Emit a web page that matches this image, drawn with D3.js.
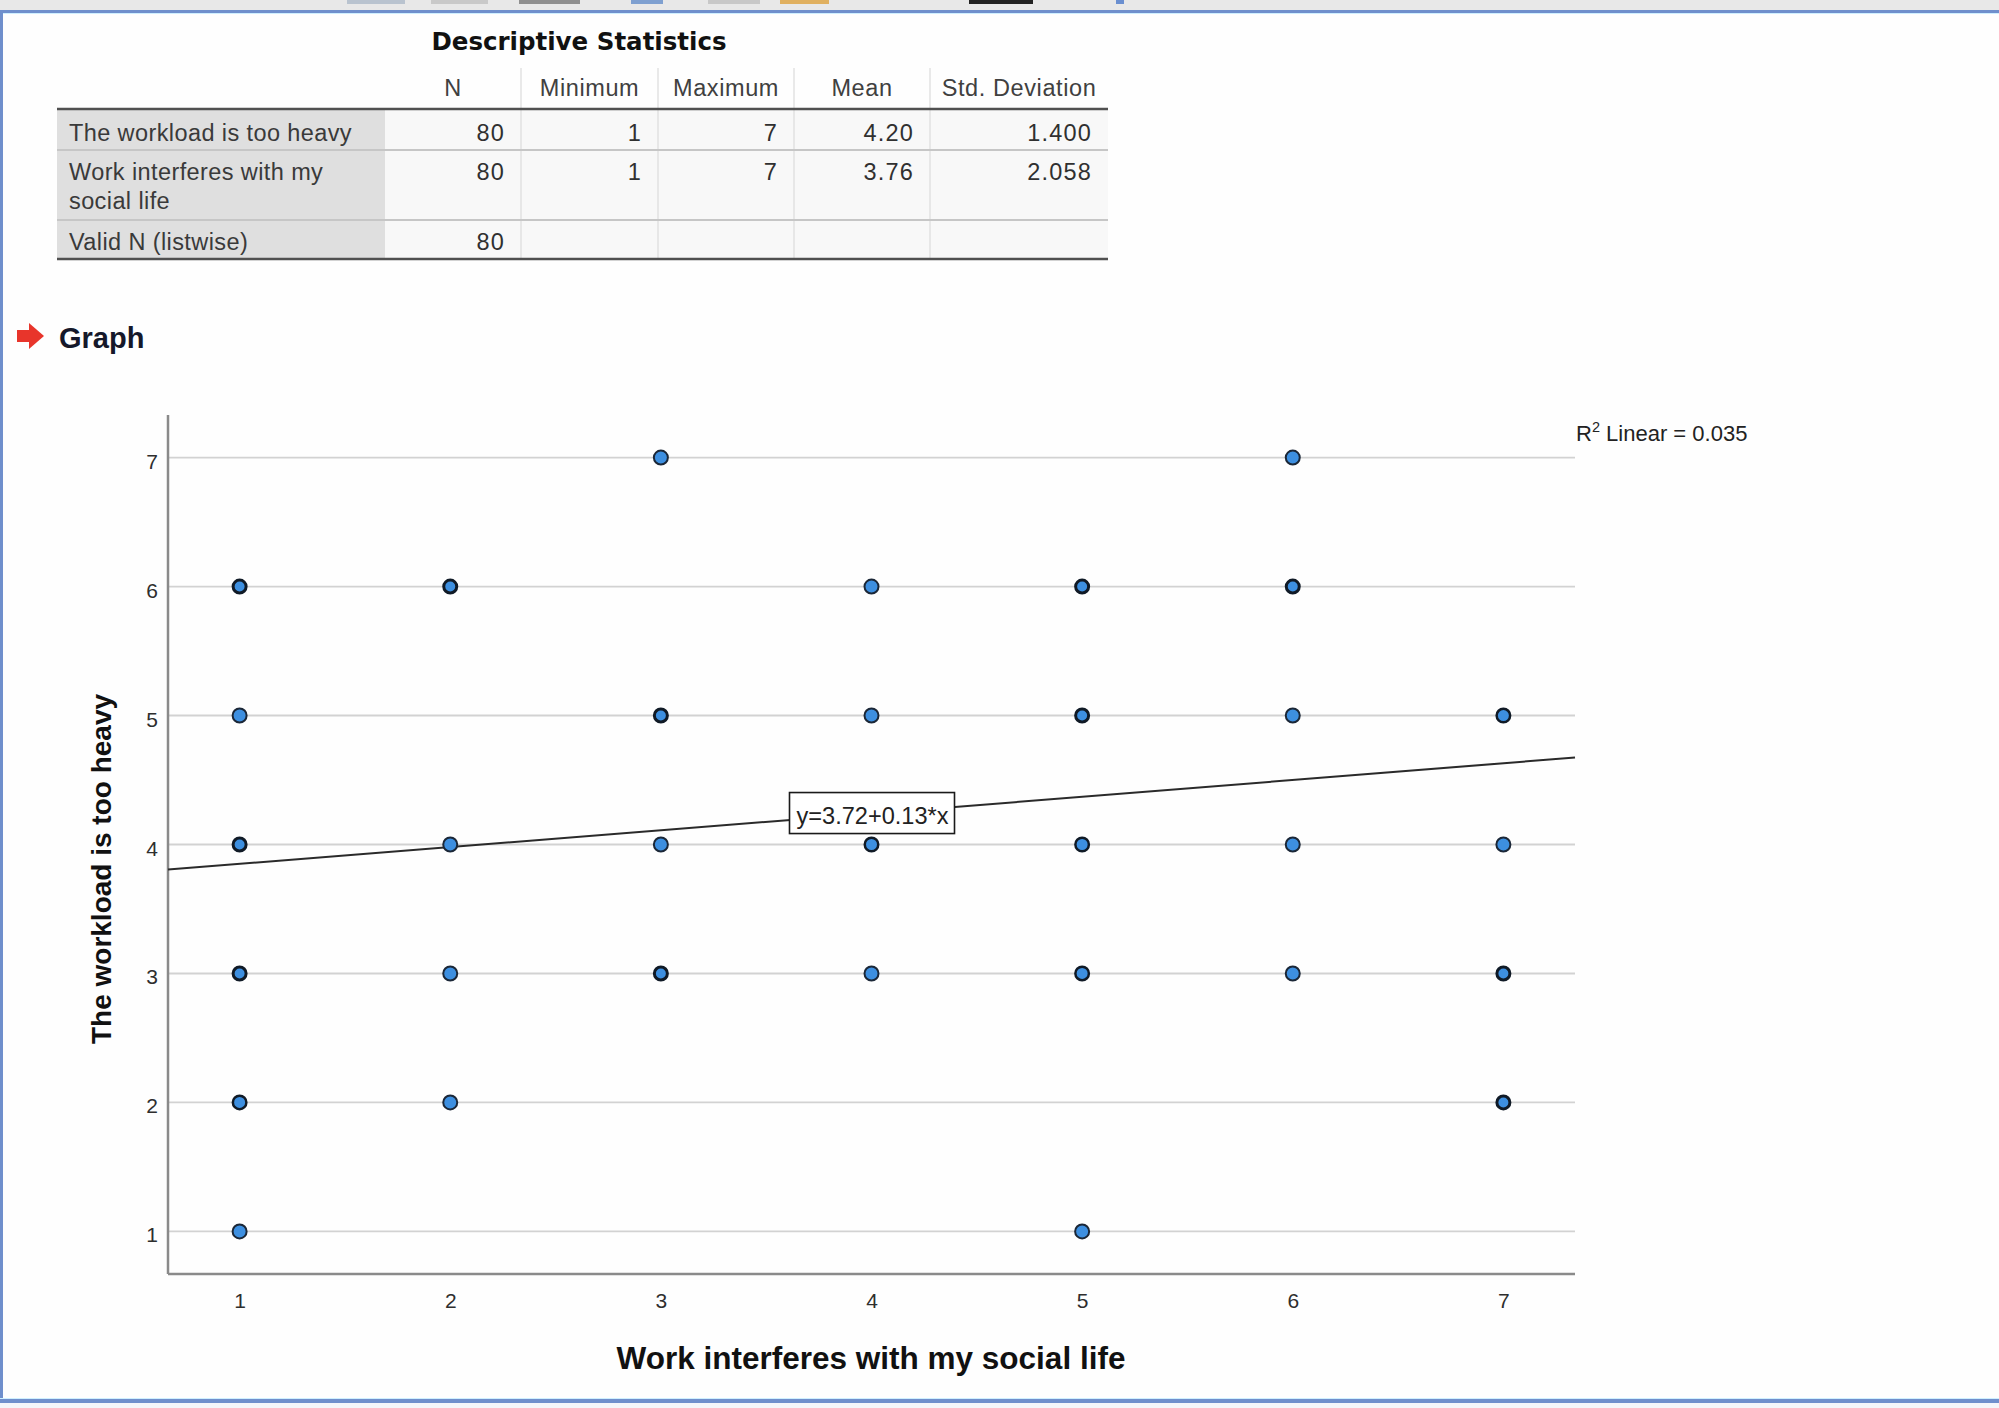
<!DOCTYPE html>
<html><head><meta charset="utf-8">
<script src="https://cdn.jsdelivr.net/npm/d3@7"></script>
<style>html,body{margin:0;padding:0;background:#fff;} svg{display:block}</style>
</head><body>
<svg id="c" width="1999" height="1408"></svg>
<script>
// ---------- data ----------
const tableTitle = "Descriptive Statistics";
const statColumns = ["N", "Minimum", "Maximum", "Mean", "Std. Deviation"];
const statRowLabels = [["The workload is too heavy"], ["Work interferes with my", "social life"], ["Valid N (listwise)"]];
const statN = ["80", "80", "80"];
const statMin = ["1", "1", ""];
const statMax = ["7", "7", ""];
const statMean = ["4.20", "3.76", ""];
const statSD = ["1.400", "2.058", ""];

const xTicks = [1, 2, 3, 4, 5, 6, 7];
const yTicks = [1, 2, 3, 4, 5, 6, 7];
const xTitle = "Work interferes with my social life";
const yTitle = "The workload is too heavy";
// one entry per distinct (x, y) location; caseCounts = estimated overlapping cases
const workInterferes = [3, 6, 1, 2, 4, 5, 6, 1, 3, 4, 5, 6, 7, 1, 2, 3, 4, 5, 6, 7, 1, 2, 3, 4, 5, 6, 7, 1, 2, 7, 1, 5];
const workloadHeavy  = [7, 7, 6, 6, 6, 6, 6, 5, 5, 5, 5, 5, 5, 4, 4, 4, 4, 4, 4, 4, 3, 3, 3, 3, 3, 3, 3, 2, 2, 2, 1, 1];
const caseCounts     = [1, 1, 3, 3, 1, 3, 3, 1, 3, 1, 3, 1, 2, 3, 1, 1, 2, 2, 1, 1, 3, 1, 3, 1, 2, 1, 3, 2, 1, 3, 1, 1];
const fitIntercept = 3.72;
const fitSlope = 0.13;
const rSquared = 0.035;

// ---------- page frame ----------
const svg = d3.select("#c");
svg.append("rect").attr("width", 1999).attr("height", 1408).attr("fill", "#fefefe");
svg.append("rect").attr("x", 0).attr("y", 0).attr("width", 1999).attr("height", 10).attr("fill", "#e8e8e8");
const toolbarBits = [[347, 58, "#b9c3cf"], [431, 57, "#c9c9c9"], [519, 61, "#8f8f8f"], [631, 32, "#7fa0d0"], [708, 52, "#c8c8c8"], [780, 49, "#e0b060"], [969, 64, "#222"], [1116, 8, "#6a8fd0"]];
svg.selectAll("rect.tb").data(toolbarBits).join("rect").attr("class", "tb")
  .attr("x", d => d[0]).attr("y", 0).attr("width", d => d[1]).attr("height", 4).attr("fill", d => d[2]);
svg.append("rect").attr("x", 0).attr("y", 10).attr("width", 1999).attr("height", 3).attr("fill", "#6f8fcc");
svg.append("rect").attr("x", 0).attr("y", 13).attr("width", 1999).attr("height", 1).attr("fill", "#cfefff");
svg.append("rect").attr("x", 0).attr("y", 10).attr("width", 3).attr("height", 1398).attr("fill", "#6f8fcc");
svg.append("rect").attr("x", 0).attr("y", 1398).attr("width", 1999).attr("height", 1).attr("fill", "#cfefff");
svg.append("rect").attr("x", 0).attr("y", 1399).attr("width", 1999).attr("height", 4).attr("fill", "#6f8fcc");
svg.append("rect").attr("x", 0).attr("y", 1403).attr("width", 1999).attr("height", 5).attr("fill", "#f4f6fa");

// ---------- table ----------
const colEdges = [57, 385, 521, 658, 794, 930, 1108];
const rowEdges = [109, 150, 220, 259];
const tbl = svg.append("g").attr("font-family", "Liberation Sans, Arial, sans-serif");
tbl.append("text").attr("x", 579).attr("y", 50).attr("text-anchor", "middle")
  .attr("font-family", "DejaVu Sans, sans-serif").attr("font-weight", "bold").attr("font-size", 24.5)
  .attr("fill", "#111").text(tableTitle);
for (let r = 0; r < 3; r++) {
  tbl.append("rect").attr("x", colEdges[0]).attr("y", rowEdges[r]).attr("width", colEdges[1] - colEdges[0])
    .attr("height", rowEdges[r + 1] - rowEdges[r]).attr("fill", "#dfdfdf");
  tbl.append("rect").attr("x", colEdges[1]).attr("y", rowEdges[r]).attr("width", colEdges[6] - colEdges[1])
    .attr("height", rowEdges[r + 1] - rowEdges[r]).attr("fill", "#f8f8f8");
}
for (let c = 2; c < 6; c++) {
  tbl.append("line").attr("x1", colEdges[c]).attr("x2", colEdges[c]).attr("y1", 68).attr("y2", rowEdges[3])
    .attr("stroke", "#e2e2e2").attr("stroke-width", 1.5);
}
[150, 220].forEach(yy => tbl.append("line").attr("x1", colEdges[0]).attr("x2", colEdges[6]).attr("y1", yy).attr("y2", yy)
  .attr("stroke", "#c6c6c6").attr("stroke-width", 2));
[109, 259].forEach(yy => tbl.append("line").attr("x1", colEdges[0]).attr("x2", colEdges[6]).attr("y1", yy).attr("y2", yy)
  .attr("stroke", "#505050").attr("stroke-width", 2.5));
statColumns.forEach((h, i) => {
  tbl.append("text").attr("x", (colEdges[i + 1] + colEdges[i + 2]) / 2).attr("y", 96).attr("text-anchor", "middle")
    .attr("font-size", 23.5).attr("letter-spacing", 0.6).attr("fill", "#404040").text(h);
});
const rowBase = [141, 180, 250];
statRowLabels.forEach((lines, r) => {
  lines.forEach((ln, k) => {
    tbl.append("text").attr("x", 69).attr("y", rowBase[r] + k * 29).attr("font-size", 23.5)
      .attr("letter-spacing", 0.4).attr("fill", "#3a3a3a").text(ln);
  });
});
const statCols = [statN, statMin, statMax, statMean, statSD];
statCols.forEach((col, c) => {
  col.forEach((v, r) => {
    if (!v) return;
    tbl.append("text").attr("x", colEdges[c + 2] - 16).attr("y", rowBase[r]).attr("text-anchor", "end")
      .attr("font-size", 23.5).attr("letter-spacing", 1.2).attr("fill", "#303030").text(v);
  });
});

// ---------- Graph heading ----------
const arrow = svg.append("g");
arrow.append("rect").attr("x", 17).attr("y", 330).attr("width", 14).attr("height", 12).attr("fill", "#e8352b");
arrow.append("path").attr("d", "M29,323 L44,336 L29,349 Z").attr("fill", "#e8352b");
svg.append("text").attr("x", 59).attr("y", 348).attr("font-family", "Liberation Sans, Arial, sans-serif")
  .attr("font-weight", "bold").attr("font-size", 29).attr("fill", "#15182a").text("Graph");

// ---------- scatter ----------
const plotL = 168, plotR = 1575, plotT = 415, plotB = 1274;
const x = d3.scaleLinear().domain([0.66, 7.34]).range([plotL, plotR]);
const y = d3.scaleLinear().domain([0.67, 7.33]).range([plotB, plotT]);
const chart = svg.append("g").attr("font-family", "Liberation Sans, Arial, sans-serif");

chart.append("g").selectAll("line").data(yTicks).join("line")
  .attr("x1", plotL).attr("x2", plotR).attr("y1", d => y(d)).attr("y2", d => y(d))
  .attr("stroke", "#d2d2d2").attr("stroke-width", 1.8);

const xAxis = chart.append("g").attr("transform", `translate(0,${plotB})`)
  .call(d3.axisBottom(x).tickValues(xTicks).tickSize(0).tickSizeOuter(0).tickPadding(19).tickFormat(d3.format("d")));
const yAxis = chart.append("g").attr("transform", `translate(${plotL},0)`)
  .call(d3.axisLeft(y).tickValues(yTicks).tickSize(0).tickSizeOuter(0).tickPadding(10).tickFormat(d3.format("d")));
[xAxis, yAxis].forEach(a => {
  a.select(".domain").attr("stroke", "#8a8a8a").attr("stroke-width", 2.5);
  a.selectAll("text").attr("font-size", 21).attr("fill", "#2e2e2e").attr("font-family", "Liberation Sans, Arial, sans-serif");
});
yAxis.selectAll("text").attr("dy", "0.5em");
yAxis.select(".domain").attr("d", `M0,${plotT}V${plotB}`);
xAxis.select(".domain").attr("d", `M${plotL},0H${plotR}`);

const fitX = x.domain();
chart.append("path").datum(fitX)
  .attr("d", d3.line().x(d => x(d)).y(d => y(fitIntercept + fitSlope * d)))
  .attr("fill", "none").attr("stroke", "#2a2a2a").attr("stroke-width", 2);

// points: overlapping cases darken the rim
const rim = d3.scaleLinear().domain([1, 3]).range([2, 3]);
const pts = workInterferes.map((xv, i) => ({ x: xv, y: workloadHeavy[i], n: caseCounts[i] }));
chart.append("g").selectAll("circle").data(pts).join("circle")
  .attr("cx", d => x(d.x)).attr("cy", d => y(d.y)).attr("r", d => 7 - (rim(d.n) - 2) / 2)
  .attr("fill", "#3d8fe0").attr("stroke", d => d.n > 1 ? "#101a26" : "#1b2737").attr("stroke-width", d => rim(d.n));

const eqX = 4;
const eqCx = x(eqX), eqCy = y(fitIntercept + fitSlope * eqX);
chart.append("rect").attr("x", eqCx - 82).attr("y", eqCy - 21).attr("width", 165).attr("height", 41)
  .attr("fill", "#fff").attr("stroke", "#1a1a1a").attr("stroke-width", 1.6);
chart.append("text").attr("x", eqCx + 1).attr("y", eqCy + 10).attr("text-anchor", "middle")
  .attr("font-size", 24).attr("fill", "#222").attr("textLength", 152).attr("lengthAdjust", "spacingAndGlyphs")
  .text(`y=${fitIntercept.toFixed(2)}+${fitSlope.toFixed(2)}*x`);

const r2 = chart.append("text").attr("x", 1576).attr("y", 441).attr("font-size", 22).attr("fill", "#222");
r2.append("tspan").text("R");
r2.append("tspan").attr("font-size", 14.5).attr("dy", -9).text("2");
r2.append("tspan").attr("dy", 9).text(` Linear = ${rSquared.toFixed(3)}`);

chart.append("text").attr("x", 871).attr("y", 1369).attr("text-anchor", "middle")
  .attr("font-weight", "bold").attr("font-size", 31.5).attr("fill", "#111").text(xTitle);
chart.append("text").attr("transform", "translate(111,869) rotate(-90)").attr("text-anchor", "middle")
  .attr("font-weight", "bold").attr("font-size", 28).attr("fill", "#111").text(yTitle);
</script>
</body></html>
